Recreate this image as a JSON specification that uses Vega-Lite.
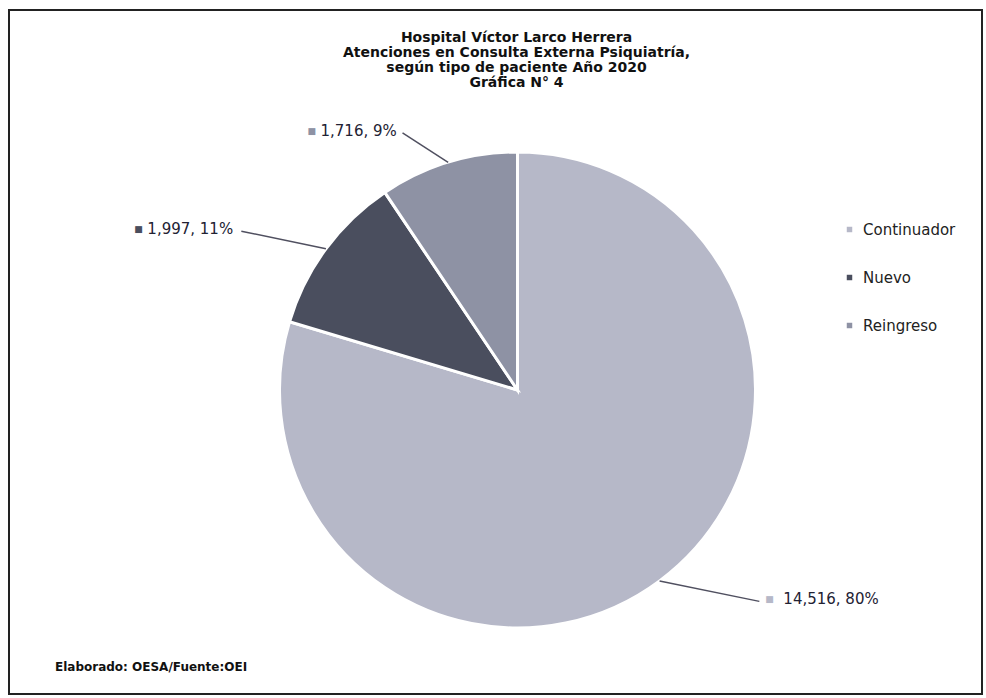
{
  "$schema": "https://vega.github.io/schema/vega-lite/v6.json",
  "width": 973,
  "height": 684,
  "autosize": {"type": "none"},
  "padding": {"left": 9, "top": 10, "right": 4, "bottom": 4},
  "background": "white",
  "view": {"stroke": "#222222", "strokeWidth": 2, "fill": "white"},
  "config": {
    "view": {"stroke": "#222222", "strokeWidth": 2},
    "font": "DejaVu Sans"
  },
  "title": {
    "text": ["Hospital Víctor Larco Herrera", "Atenciones en Consulta Externa Psiquiatría,", "según tipo de paciente Año 2020", "Gráfica N° 4"],
    "anchor": "middle",
    "orient": "top",
    "baseline": "top",
    "offset": -80,
    "dx": 21,
    "fontSize": 14,
    "fontWeight": "bold",
    "lineHeight": 15,
    "color": "#111111",
    "font": "DejaVu Sans"
  },
  "data": {
    "values": [
      {"tipo": "Continuador", "valor": 14516, "etiqueta": "14,516, 80%"},
      {"tipo": "Nuevo", "valor": 1997, "etiqueta": "1,997, 11%"},
      {"tipo": "Reingreso", "valor": 1716, "etiqueta": "1,716, 9%"}
    ]
  },
  "encoding": {
    "theta": {"field": "valor", "type": "quantitative", "stack": true},
    "order": {"field": "tipo", "sort": "ascending"},
    "color": {
      "field": "tipo",
      "type": "nominal",
      "scale": {"domain": ["Continuador", "Nuevo", "Reingreso"], "range": ["#b6b8c8", "#4a4e5e", "#8e92a4"]},
      "legend": {
        "title": null,
        "orient": "none",
        "legendX": 833,
        "legendY": 212,
        "symbolType": "square",
        "symbolSize": 30,
        "symbolStrokeWidth": 0,
        "labelFontSize": 15,
        "labelColor": "#222222",
        "labelFont": "DejaVu Sans",
        "rowPadding": 32,
        "labelOffset": 6
      }
    }
  },
  "layer": [
    {
      "mark": {"type": "arc", "radius": 238, "stroke": "white", "strokeWidth": 3, "x": {"expr": "width/2 + 22"}, "y": {"expr": "height/2 + 38"}}
    },
    {
      "transform": [
        {"joinaggregate": [{"op": "sum", "field": "valor", "as": "tot"}]},
        {"stack": "valor", "groupby": [], "sort": [{"field": "tipo", "order": "ascending"}], "as": ["s0", "s1"]}
      ],
      "mark": {"type": "rule", "color": "#505060", "strokeWidth": 1.5},
      "encoding": {
        "theta": null,
        "order": null,
        "color": null,
        "x": {"value": {"expr": "width/2 + 22 + 238*sin(PI*(datum.s0+datum.s1)/datum.tot)"}},
        "y": {"value": {"expr": "height/2 + 38 - 238*cos(PI*(datum.s0+datum.s1)/datum.tot)"}},
        "x2": {"value": {"expr": "width/2 + 22 + (datum.tipo === 'Continuador' ? 261 : 271)*sin(PI*(datum.s0+datum.s1)/datum.tot) + (datum.tipo === 'Continuador' ? 86 : datum.tipo === 'Nuevo' ? -58 : -36)"}},
        "y2": {"value": {"expr": "height/2 + 38 - (datum.tipo === 'Continuador' ? 261 : 271)*cos(PI*(datum.s0+datum.s1)/datum.tot) + 2"}}
      }
    },
    {
      "mark": {"type": "text", "radius": 261, "align": "left", "baseline": "middle", "dx": 92, "fontSize": 9, "x": {"expr": "width/2 + 22"}, "y": {"expr": "height/2 + 38"}},
      "encoding": {"text": {"condition": {"test": "datum.tipo === 'Continuador'", "value": "■"}, "value": ""}}
    },
    {
      "mark": {"type": "text", "radius": 261, "align": "left", "baseline": "middle", "dx": 110, "fontSize": 15, "color": "#222233", "x": {"expr": "width/2 + 22"}, "y": {"expr": "height/2 + 38"}},
      "encoding": {"text": {"condition": {"test": "datum.tipo === 'Continuador'", "field": "etiqueta"}, "value": ""}, "color": null}
    },
    {
      "mark": {"type": "text", "radius": 271, "align": "left", "baseline": "middle", "dx": -165, "fontSize": 9, "x": {"expr": "width/2 + 22"}, "y": {"expr": "height/2 + 38"}},
      "encoding": {"text": {"condition": {"test": "datum.tipo === 'Nuevo'", "value": "■"}, "value": ""}}
    },
    {
      "mark": {"type": "text", "radius": 271, "align": "left", "baseline": "middle", "dx": -152, "fontSize": 15, "color": "#222233", "x": {"expr": "width/2 + 22"}, "y": {"expr": "height/2 + 38"}},
      "encoding": {"text": {"condition": {"test": "datum.tipo === 'Nuevo'", "field": "etiqueta"}, "value": ""}, "color": null}
    },
    {
      "mark": {"type": "text", "radius": 271, "align": "left", "baseline": "middle", "dx": -131, "fontSize": 9, "x": {"expr": "width/2 + 22"}, "y": {"expr": "height/2 + 38"}},
      "encoding": {"text": {"condition": {"test": "datum.tipo === 'Reingreso'", "value": "■"}, "value": ""}}
    },
    {
      "mark": {"type": "text", "radius": 271, "align": "left", "baseline": "middle", "dx": -118, "fontSize": 15, "color": "#222233", "x": {"expr": "width/2 + 22"}, "y": {"expr": "height/2 + 38"}},
      "encoding": {"text": {"condition": {"test": "datum.tipo === 'Reingreso'", "field": "etiqueta"}, "value": ""}, "color": null}
    },
    {
      "data": {"values": [{"nota": "Elaborado: OESA/Fuente:OEI"}]},
      "mark": {"type": "text", "align": "left", "baseline": "middle", "fontSize": 12, "fontWeight": "bold", "font": "DejaVu Sans", "color": "#111111", "x": 46, "y": {"expr": "height - 27"}},
      "encoding": {"text": {"field": "nota"}, "theta": null, "order": null, "color": null}
    }
  ]
}
